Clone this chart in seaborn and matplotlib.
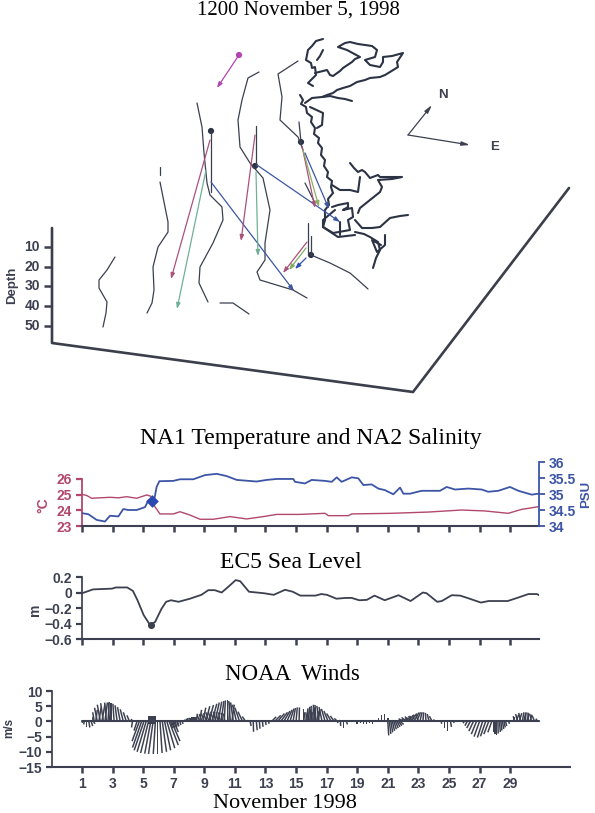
import numpy as np
import pandas as pd
import matplotlib
matplotlib.use("Agg")
import matplotlib.pyplot as plt
import seaborn as sns

# ---------- time series ----------
temp_day = [1.0,1.3,1.63,2.2,2.83,3.4,3.92,4.58,5.23,5.5,5.77,6.10,6.97,7.41,8.06,8.72,9.59,10.68,11.77,12.86,13.73,15.26,16.89,17.11,18.42,18.64,21.25,23.65,25.83,27.35,28.88,29.75,30.84]
temp_val = [25.02,24.95,24.77,24.8,24.83,24.8,24.87,24.77,24.98,24.9,24.23,23.77,23.77,23.91,23.70,23.43,23.43,23.60,23.45,23.6,23.74,23.74,23.81,23.66,23.66,23.77,23.81,23.89,24.02,23.96,23.81,24.06,24.23]
sal_day = [1.0,1.41,1.96,2.50,2.83,3.38,3.70,4.03,4.58,5.12,5.34,5.67,5.88,6.06,6.97,7.41,8.28,9.04,9.81,10.46,11.12,12.42,13.08,13.73,14.82,14.93,15.58,16.02,16.89,17.33,17.66,17.98,18.64,19.07,19.40,19.94,20.38,20.82,21.36,21.80,22.02,22.45,23.21,24.41,24.85,25.39,26.27,27.14,27.57,28.23,28.99,29.54,30.41,30.85]
sal_val = [34.40,34.37,34.19,34.14,34.32,34.30,34.53,34.50,34.50,34.59,34.80,34.69,35.22,35.40,35.41,35.46,35.46,35.59,35.63,35.56,35.44,35.39,35.44,35.47,35.47,35.38,35.33,35.44,35.41,35.38,35.52,35.38,35.52,35.49,35.28,35.30,35.17,35.12,34.99,35.20,35.01,35.01,35.10,35.10,35.22,35.14,35.17,35.14,35.07,35.10,35.22,35.10,34.98,35.01]
sea_day = [1.0,1.72,2.97,3.21,3.96,4.33,4.63,5.03,5.45,5.78,6.2,6.5,6.82,7.32,8.06,8.81,9.26,9.68,10.13,10.55,11.05,11.35,11.92,12.92,13.54,14.28,14.78,15.28,16.27,16.65,17.02,17.64,18.26,18.64,19.13,19.63,20.13,20.8,21.7,22.49,23.29,23.54,24.23,24.53,25.18,25.73,26.35,27.09,27.59,28.84,29.46,30.2,30.75,30.95]
sea_val = [-0.01,0.04,0.05,0.065,0.065,0.02,-0.10,-0.29,-0.42,-0.38,-0.21,-0.12,-0.10,-0.12,-0.08,-0.03,0.03,0.03,0,0.07,0.16,0.145,0.01,-0.01,-0.03,0.035,0.01,-0.04,-0.04,-0.02,-0.03,-0.08,-0.07,-0.07,-0.10,-0.095,-0.04,-0.10,-0.035,-0.11,0,-0.01,-0.12,-0.11,-0.035,-0.04,-0.08,-0.13,-0.11,-0.11,-0.07,-0.02,-0.02,-0.04]

# ---------- wind sticks (day, east, north) ----------
wind_day = [1.0,1.15,1.3,1.45,1.6,1.75, 1.7,1.9,2.1,2.3,2.5,2.7,2.9,3.1,3.3,3.5,3.7,3.9,4.1,4.3,
            1.8,2.0,2.2,2.4,2.6,2.8,
            4.3,4.6,4.75,4.9,5.05,5.2,5.35,5.5,5.65,5.8,5.95,6.1,6.25,6.4,6.55,6.7,6.85,7.0,7.2,
            6.8,6.95,7.1,7.25,7.4,7.55,7.7,7.8,7.9,8.0,8.1,8.2,8.3,8.4,8.5,
            8.5,8.7,8.9,9.1,9.3,9.5,9.7,9.9,10.1,10.3,10.5,10.7,10.9,11.1,11.3,11.5,11.7,11.9,
            8.7,8.85,9.0,9.15,9.3,9.45,9.6,9.75,9.9,10.05,10.2,10.35,10.6,10.8,
            12.0,12.2,12.4,12.6,12.8,13.0,13.2,13.4,13.6,
            13.4,13.6,13.8,14.0,14.2,14.4,14.6,14.8,15.0,15.2,15.5,15.6,15.7,15.8,15.9,16.1,16.3,16.5,16.7,16.9,17.1,17.3,17.5,17.7,17.9,
            15.75,15.85,15.95,16.05,16.15,16.25,16.35,16.45,
            17.7,17.9,18.1,18.3,18.5,18.8,19.0,19.2,19.4,19.6,19.8,20.0,20.2,20.4,20.6,20.8,21.0,
            21.0,21.1,21.2,21.3,21.4,21.5,21.6,21.7,21.8,
            21.7,21.9,22.1,22.3,22.5,22.7,22.9,23.1,23.3,23.5,23.7,23.9,24.1,
            22.0,22.2,22.4,22.6,22.8,23.0,
            24.5,24.7,24.9,25.1,25.3,
            26.0,26.2,26.4,26.6,26.8,27.0,27.2,27.4,27.6,27.8,27.9,28.0,28.1,28.2,28.3,28.4,28.5,28.6,28.7,28.9,29.1,
            29.2,29.4,29.6,29.8,30.0,30.2,30.4,30.6,30.8,30.9,
            29.3,29.5,29.7,29.9,30.1,30.3]
wind_u = [0.2,-0.2,0,0.3,0.5,0.5, .1,.5,.8,1.0,.8,.4,0,-.4,-.7,-.9,-1,-1,-.8,-.4,
          -.5,-.9,-1,-.9,-.6,-.4,
          -.3,-1.0,-2.4,-3.0,-3.2,-3.0,-2.6,-2.0,-1.5,-.7,0,.7,1.4,2.0,2.6,3.0,2.8,1.5,.6,
          .6,.6,.5,.4,.3,.3,.2,.2,.1,.1,0,0,0,0,0,
          .2,.6,1.0,1.3,1.5,1.6,1.4,1.2,.9,.4,0,-.5,-.9,-1.3,-1.5,-1.5,-1.1,-.4,
          -.8,-.9,-1,-1,-1,-.9,-.9,-.8,-.7,-.6,-.5,-.5,.4,.8,
          .3,.1,.3,.2,.2,.2,.2,.1,0,
          1.5,2.0,2.2,2.2,2.0,1.7,1.3,.8,.4,.1,0,-.3,.4,.5,.5,.2,-.3,-.7,-1,-1.2,-1.4,-1.5,-1.3,-1.0,-.4,
          -.6,-.5,.6,-.4,.6,-.3,.8,.6,
          .2,.1,0,.3,.2,0,0,0,0,0,0,0,0,0,0,0,0,
          .3,.5,.6,.7,.8,.9,1,1.1,1.2,
          1.5,2,2.2,2.2,2,1.7,1.2,.7,.2,-.2,-.6,-.9,-.6,
          -1.5,-1.5,-1.4,-1.2,-1,-.8,
          .1,0,0,.3,.2,
          -.4,-.8,-1.2,-1.5,-1.7,-1.8,-1.7,-1.7,-1.6,-1.3,0,0,0,.1,.3,.3,.4,.4,.4,.3,.2,
          .5,.8,.8,.5,.2,-.2,-.6,-.8,-.6,-.2,
          -.5,-.7,-.7,.6,.7,.6]
wind_v = [-.5,-1,-1.8,-2,-1.5,-.8, 1.5,3.8,4.8,5.6,6.2,6.4,6.1,5.8,5.3,4.7,4.0,3,2,.8,
          3,4.5,5.5,6,6.2,6.1,
          -2,-3,-6.5,-8.6,-9.5,-10,-10.4,-10.6,-10.7,-10.7,-10.7,-10.4,-10,-9.5,-8.8,-7.8,-6.5,-3.5,-1.6,
          -2.2,-2.4,-2.0,-1.6,-1.2,-.8,.6,.9,1.1,1.2,1.2,1.3,1.3,1.3,1.3,
          2.5,3.8,4.5,5.0,5.4,5.8,6.2,6.5,6.7,6.9,6.9,6.7,6.2,5.5,4.5,3.2,1.6,.4,
          2,2.4,2.6,2.7,3,3,3.2,3.2,3,3,2.8,2.6,6.2,5.5,
          -1.5,-3.4,-2.9,-2.4,-1.8,-1.2,-.8,-.4,-.2,
          1.5,2,2.6,3,3.4,3.8,4.2,4.4,4.6,4.6,4,3,4.3,4.8,5.1,5.5,5.4,5.1,4.7,4.1,3.4,2.6,1.8,1,.4,
          3,3.5,3,4,3,4.6,3.5,4,
          -.5,-1.5,-2.3,-1,-.4,-.4,-.8,-.5,-.8,-1,-.6,-.8,-.3,1,2,2.3,1.2,
          -4.6,-4.1,-3.6,-3.1,-2.6,-2.2,-1.8,-1.4,-1,
          .6,1.2,1.7,2.2,2.6,2.9,3,3,3,2.8,2.4,1.7,.6,
          .9,1.3,1.6,1.8,2,2.1,
          -.8,-2.2,-3.3,-1.8,-.5,
          -.6,-1.4,-2.2,-3.2,-4.2,-5,-5.3,-4.9,-4.2,-3.6,-3.6,-4,-4.4,-4,-3.5,-3,-2.5,-2,-1.5,-.8,-.4,
          1.4,2.2,2.7,3,3,2.9,2.5,1.9,.9,.2,
          1.7,2.4,2.8,2.8,2.6,2.2]

# ---------- map lines (screen position on the drawing) ----------
contours = [
    [(115,257),(107,270),(99,280),(99,288),(107,302),(106,313),(103,327)],
    [(160,167),(160,175)],
    [(160,182),(163,197),(168,222),(168,232),(158,247),(153,267),(154,290),(152,303),(147,313)],
    [(197,103),(202,127),(204,153),(207,183),(210,195),(222,207),(223,220),(213,243),(200,267),(199,283),(208,302)],
    [(220,303),(233,303),(249,314)],
    [(259,72),(248,78),(242,100),(238,120),(240,147),(250,163),(263,178),(270,210),(265,243),(265,260),(257,272),(260,280),(293,290),(307,298)],
    [(298,61),(278,74),(282,97),(280,120),(298,137),(303,150)],
    [(305,183),(315,203)],
    [(311,255),(330,263),(350,273),(358,280),(368,289)],
    [(211,131),(211,192)], [(256,126),(256,166)], [(299,122),(301,142)],
    [(308,223),(308,255)], [(311,236),(311,255)],
]
coast = [
    [(323,39),(316,41),(312,46),(308,50),(306,60),(311,63),(312,68),(315,67),(316,75),(312,79),(308,83),(313,86)],
    [(323,50),(320,56),(317,60)],
    [(315,73),(327,70),(330,75),(333,76),(340,71),(343,68),(352,62),(355,59),(360,57),(347,50),(338,47),(345,43),(350,42),(358,44),(365,45),(372,46),(377,50),(375,57),(365,60),(370,65),(380,67),(383,62),(383,57),(392,56),(403,53),(397,62),(398,67),(390,72),(385,75),(380,77),(370,78),(365,80),(357,82),(350,86),(343,88),(337,90),(333,93),(327,95),(322,97),(312,98),(305,103)],
    [(323,97),(330,96),(338,98),(345,99),(352,101)],
    [(300,95),(303,100),(301,104),(306,107),(307,113),(312,117),(311,122),(315,128),(314,134),(319,138),(318,143),(322,148),(321,155),(325,160),(324,166),(328,172),(327,177),(332,181),(331,187),(333,193),(328,199),(329,205),(325,210),(325,220),(323,227)],
    [(310,107),(323,113),(322,125),(317,128)],
    [(350,163),(354,168),(358,172),(362,170),(365,172),(370,178),(378,175),(380,177),(390,177),(402,177),(392,179),(378,180),(382,187),(380,192),(370,200),(360,208),(358,213)],
    [(360,177),(358,192),(350,190),(340,190),(332,185)],
    [(332,207),(338,205),(348,203),(348,207),(343,210),(352,208),(353,217),(348,220),(350,230),(333,233),(323,227),(323,220),(335,210)],
    [(355,220),(362,228),(372,228),(380,227),(390,218),(400,216),(408,215)],
    [(355,232),(364,234),(370,237),(378,242),(380,250),(376,258),(373,268)],
    [(385,235),(385,245),(377,252),(372,240),(381,245)],
    [(340,222),(340,235)],
    [(323,227),(338,237),(355,235)],
]
arrows = [
    ((239,55),(217,88),"#b344b3"),
    ((210,140),(171,279),"#a9527c"),
    ((206,170),(177,309),"#6fb097"),
    ((211,182),(294,291),"#3d57a3"),
    ((255,135),(241,241),"#a9527c"),
    ((256,172),(258,256),"#6fb097"),
    ((257,165),(340,222),"#3d57a3"),
    ((302,146),(315,208),"#a9527c"),
    ((303,150),(319,207),"#8fae62"),
    ((305,153),(329,209),"#3d57a3"),
    ((307,242),(283,273),"#a9527c"),
    ((306,248),(289,270),"#7fae62"),
    ((306,258),(295,269),"#2f4fb0"),
]
station_x = [239,211,255,301,311]
station_y = [55,131,166,142,255]
station_c = ["#b344b3","#2c3345","#2c3345","#2c3345","#2c3345"]
box_x = [52,52,413,569]
box_y = [228,343,392,188]
depth_ticks = [10,20,30,40,50]
depth_pos = [247,267,286,306,326]
day_ticks = list(range(1,30,2))

W,H = 595,813
DARK = "#3c4050"
RED = "#b2486c"
BLUE = "#3d55a6"
sns.set_theme(style="white", rc={"axes.grid":False})
plt.rcParams["font.family"] = ["Liberation Sans","DejaVu Sans"]
fig = plt.figure(figsize=(W/100,H/100),dpi=100,facecolor="white")

def panel(l,r,t,b):
    return fig.add_axes([l/W,1-b/H,(r-l)/W,(b-t)/H])

# ---------- background map ----------
m = fig.add_axes([0,0,1,1]); m.set_xlim(0,W); m.set_ylim(H,0); m.axis("off")
def path(pts,ax=m,**kw):
    d = pd.DataFrame(pts,columns=["x","y"])
    sns.lineplot(data=d,x="x",y="y",sort=False,estimator=None,ax=ax,legend=False,**kw)
for c in contours: path(c,color="#3b4050",linewidth=0.9)
for c in coast: path(c,color="#2c3345",linewidth=1.5)
sns.lineplot(x=box_x,y=box_y,sort=False,estimator=None,ax=m,color="#3b3f4c",linewidth=1.9)
for (p0,p1,col) in arrows:
    m.annotate("",xy=p1,xytext=p0,arrowprops=dict(arrowstyle="-|>,head_width=0.1,head_length=0.28",color=col,lw=0.9,shrinkA=0,shrinkB=0))
sns.scatterplot(x=station_x,y=station_y,c=station_c,s=20,linewidth=0,ax=m,legend=False)
for d,p in zip(depth_ticks,depth_pos):
    m.plot([44,52],[p,p],color=DARK,lw=1.8,solid_capstyle="butt")
    m.text(40,p,str(d),ha="right",va="center",fontsize=10,fontweight="bold",color=DARK)
m.text(12,285,"Depth",rotation=90,ha="center",va="center",fontsize=9.5,fontweight="bold",color=DARK)
for tip in [(432,105),(470,145)]:
    m.annotate("",xy=tip,xytext=(408,135),arrowprops=dict(arrowstyle="-|>,head_width=0.1,head_length=0.4",color=DARK,lw=0.9,shrinkA=0,shrinkB=0))
m.text(443,95,"N",ha="center",va="center",fontsize=9.5,fontweight="bold",color=DARK)
m.text(495,147,"E",ha="center",va="center",fontsize=9.5,fontweight="bold",color=DARK)
for txt,x,y,fs in [("1200 November 5, 1998",298,10,15),("NA1 Temperature and NA2 Salinity",311,438,17),
                   ("EC5 Sea Level",291,562,17),("NOAA  Winds",292,674,16.5)]:
    m.text(x,y,txt,ha="center",va="center",fontsize=fs,family="Liberation Serif",color="black")
m.text(285,808,"November 1998",ha="center",va="baseline",fontsize=16,family="Liberation Serif",color="black")

def finish_x(ax,xmin,xmax,labels=False,c=DARK):
    ax.set_xlim(xmin,xmax); ax.patch.set_alpha(0)
    ax.set_xticks(day_ticks)
    ax.set_xticklabels([str(d) for d in day_ticks] if labels else [])
    ax.tick_params(axis="x",bottom=True,length=4,width=1.8,color=c,direction="out",pad=3,labelsize=10,labelcolor=c)
    for lab in ax.get_xticklabels(): lab.set_fontweight("bold")
    for s in ["top","right"]: ax.spines[s].set_visible(False)
    ax.spines["bottom"].set_color(c); ax.spines["bottom"].set_linewidth(1.5)
    ax.set_xlabel(""); ax.set_ylabel("")

XMAX = 1+457/15.29
# ---------- temperature / salinity ----------
a = panel(82,539,462,526)
sns.lineplot(x=temp_day,y=temp_val,sort=False,estimator=None,ax=a,color=RED,linewidth=1.0)
a.set_ylim(23,23+64/15.67)
finish_x(a,1,XMAX)
a.set_yticks([23,24,25,26]); a.set_yticklabels(["23","24","25","26"])
a.tick_params(axis="y",left=True,length=4,width=1.6,color=RED,labelcolor=RED,labelsize=10,pad=3)
for lab in a.get_yticklabels(): lab.set_fontweight("bold")
a.spines["left"].set_bounds(23,26); a.spines["left"].set_color(RED); a.spines["left"].set_linewidth(1.3)
a.text(-0.085,0.33,"\u00b0C",transform=a.transAxes,rotation=90,ha="center",va="center",fontsize=10,fontweight="bold",color=RED)
b = a.twinx()
sns.lineplot(x=sal_day,y=sal_val,sort=False,estimator=None,ax=b,color=BLUE,linewidth=1.3)
b.scatter([5.55],[34.78],s=42,color="#2a48b0",marker="D",linewidth=0,zorder=5)
b.set_ylim(34,36); b.set_ylabel("")
b.set_yticks([34,34.5,35,35.5,36]); b.set_yticklabels(["34","34.5","35","35.5","36"])
b.tick_params(axis="y",right=True,length=4,width=1.3,color=BLUE,labelcolor=BLUE,labelsize=10,pad=3)
for lab in b.get_yticklabels(): lab.set_fontweight("bold")
for sp in ["top","left","bottom"]: b.spines[sp].set_visible(False)
b.spines["right"].set_color(BLUE); b.spines["right"].set_linewidth(1.3)
b.text(1.104,0.5,"PSU",transform=b.transAxes,rotation=90,ha="center",va="center",fontsize=9.5,fontweight="bold",color=BLUE)

# ---------- sea level ----------
s = panel(82,539,577,639)
sns.lineplot(x=sea_day,y=sea_val,sort=False,estimator=None,ax=s,color=DARK,linewidth=1.3)
s.scatter([5.5],[-0.42],s=26,color=DARK,linewidth=0,zorder=5)
s.set_ylim(-0.6,0.2)
finish_x(s,1,XMAX)
s.set_yticks([0.2,0,-0.2,-0.4,-0.6]); s.set_yticklabels(["0.2","0","\u22120.2","\u22120.4","\u22120.6"])
s.tick_params(axis="y",left=True,length=4,width=1.6,color=DARK,labelcolor=DARK,labelsize=10,pad=3)
for lab in s.get_yticklabels(): lab.set_fontweight("bold")
s.spines["left"].set_color(DARK)
s.text(-0.103,0.47,"m",transform=s.transAxes,rotation=90,ha="center",va="center",fontsize=10,fontweight="bold",color=DARK)

# ---------- winds ----------
w = panel(52,570,691,767)
sns.lineplot(x=[1,30.9],y=[0,0],ax=w,color=DARK,linewidth=1.5,estimator=None)
w.quiver(wind_day,np.zeros(len(wind_day)),wind_u,wind_v,angles="uv",scale_units="y",scale=1,
         units="dots",width=1.5,headwidth=1,headlength=0,headaxislength=0,color=DARK,pivot="tail")
w.scatter([5.55],[0.4],s=40,marker="s",color=DARK,linewidth=0,zorder=5)
w.set_ylim(-15,10)
finish_x(w,1-30/15.29,1+488/15.29,labels=True)
w.set_yticks([10,5,0,-5,-10,-15]); w.set_yticklabels(["10","5","0","\u22125","\u221210","\u221215"])
w.tick_params(axis="y",left=True,length=4,width=1.6,color=DARK,labelcolor=DARK,labelsize=10,pad=3)
for lab in w.get_yticklabels(): lab.set_fontweight("bold")
w.spines["left"].set_color(DARK)
m.text(9,728,"m/s",rotation=90,ha="center",va="center",fontsize=8.5,fontweight="bold",color=DARK)

fig.savefig("out.png",dpi=100,facecolor="white")
